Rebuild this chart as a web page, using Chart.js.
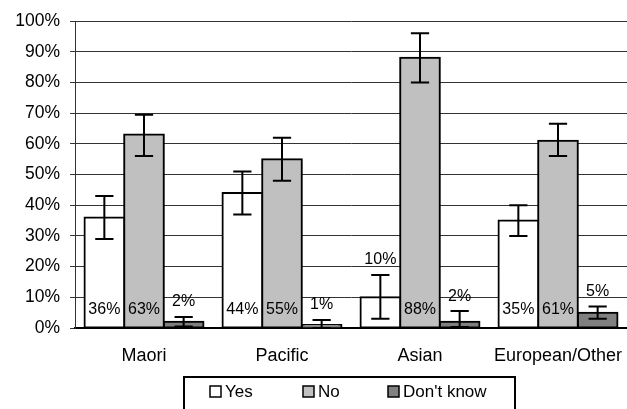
<!DOCTYPE html>
<html>
<head>
<meta charset="utf-8">
<script src="https://cdn.jsdelivr.net/npm/chart.js@4"></script>
<style>
  html, body { margin: 0; padding: 0; background: #fff; }
  #wrap { width: 627px; height: 409px; position: relative; }
</style>
</head>
<body>
<div id="wrap"><canvas id="chartEtnis"></canvas></div>
<script>
const categories = ["Maori", "Pacific", "Asian", "European/Other"];
const seriesNames = ["Yes", "No", "Don't know"];
const yesValues = [36, 44, 10, 35];
const noValues = [63, 55, 88, 61];
const dkValues = [2, 1, 2, 5];
// batas error bar (bawah / atas)
const yesLow = [29, 37, 3, 30];
const yesHigh = [43, 51, 17.3, 40];
const noLow = [56, 48, 80, 56];
const noHigh = [69.5, 62, 96, 66.5];
const dkLow = [0.5, 0, 0.3, 3];
const dkHigh = [3.6, 2.6, 5.5, 7];
const yTicks = [0, 10, 20, 30, 40, 50, 60, 70, 80, 90, 100];

const colors = ["#ffffff", "#c0c0c0", "#808080"];
const lows = [yesLow, noLow, dkLow];
const highs = [yesHigh, noHigh, dkHigh];
const font = "'Liberation Sans', Arial, sans-serif";

const errorBarPlugin = {
    id: "errorBars",
    afterDatasetsDraw(chart) {
        const ctx = chart.ctx;
        const y = chart.scales.y;
        ctx.save();
        chart.data.datasets.forEach((ds, i) => {
            const meta = chart.getDatasetMeta(i);
            meta.data.forEach((bar, j) => {
                const top = y.getPixelForValue(highs[i][j]);
                const bot = y.getPixelForValue(lows[i][j]);
                const half = bar.width * 0.23;
                ctx.strokeStyle = "#000";
                ctx.lineWidth = 2;
                ctx.beginPath();
                ctx.moveTo(bar.x, top); ctx.lineTo(bar.x, bot);
                ctx.moveTo(bar.x - half, top); ctx.lineTo(bar.x + half, top);
                ctx.moveTo(bar.x - half, bot); ctx.lineTo(bar.x + half, bot);
                ctx.stroke();

                // label nilai
                const v = ds.data[j];
                ctx.fillStyle = "#000";
                ctx.font = "16px " + font;
                ctx.textAlign = "center";
                if (v >= 30) {
                    ctx.textBaseline = "middle";
                    ctx.fillText(v + "%", bar.x, bar.base - 18);
                } else {
                    ctx.textBaseline = "bottom";
                    ctx.fillText(v + "%", bar.x, top - 7);
                }
            });
        });
        ctx.restore();
    }
};

const legendBoxPlugin = {
    id: "legendBox",
    afterDraw(chart) {
        const ctx = chart.ctx;
        ctx.save();
        ctx.strokeStyle = "#000";
        ctx.lineWidth = 2;
        ctx.strokeRect(184, 377, 331, 40);
        const items = [[210, 225], [303, 318], [388, 403]];
        ctx.font = "17px " + font;
        ctx.textBaseline = "middle";
        ctx.textAlign = "left";
        items.forEach((it, i) => {
            ctx.fillStyle = colors[i];
            ctx.fillRect(it[0], 386, 11, 11);
            ctx.lineWidth = 1.5;
            ctx.strokeRect(it[0], 386, 11, 11);
            ctx.fillStyle = "#000";
            ctx.fillText(seriesNames[i], it[1], 392);
        });
        ctx.restore();
    }
};

const ctx = document.getElementById("chartEtnis").getContext("2d");
new Chart(ctx, {
    type: "bar",
    data: {
        labels: categories,
        datasets: [yesValues, noValues, dkValues].map((vals, i) => ({
            label: seriesNames[i],
            data: vals,
            backgroundColor: colors[i],
            borderColor: "#000",
            borderWidth: 2,
            borderSkipped: false,
            inflateAmount: 1,
            categoryPercentage: 0.862,
            barPercentage: 1.0
        }))
    },
    options: {
        responsive: true,
        maintainAspectRatio: false,
        animation: false,
        layout: { padding: { top: 21, left: 0, right: 0, bottom: 0 } },
        plugins: {
            legend: { display: false },
            tooltip: { enabled: false }
        },
        scales: {
            x: {
                grid: { display: false, drawTicks: false },
                border: { color: "#000", width: 2 },
                ticks: { color: "#000", font: { family: font, size: 18 }, padding: 17, maxRotation: 0 },
                afterFit(scale) {
                    scale.height = 81;
                    scale.paddingLeft = 0;
                    scale.paddingRight = 0;
                }
            },
            y: {
                min: 0,
                max: 100,
                afterBuildTicks(scale) { scale.ticks = yTicks.map(v => ({ value: v })); },
                grid: { color: "#333", lineWidth: 1, tickLength: 5, tickColor: "#333" },
                border: { color: "#333", width: 1 },
                ticks: {
                    color: "#000",
                    font: { family: font, size: 17.5 },
                    padding: 10,
                    callback: v => v + "%"
                },
                afterFit(scale) { scale.width = 75; }
            }
        }
    },
    plugins: [errorBarPlugin, legendBoxPlugin]
});
</script>
</body>
</html>
